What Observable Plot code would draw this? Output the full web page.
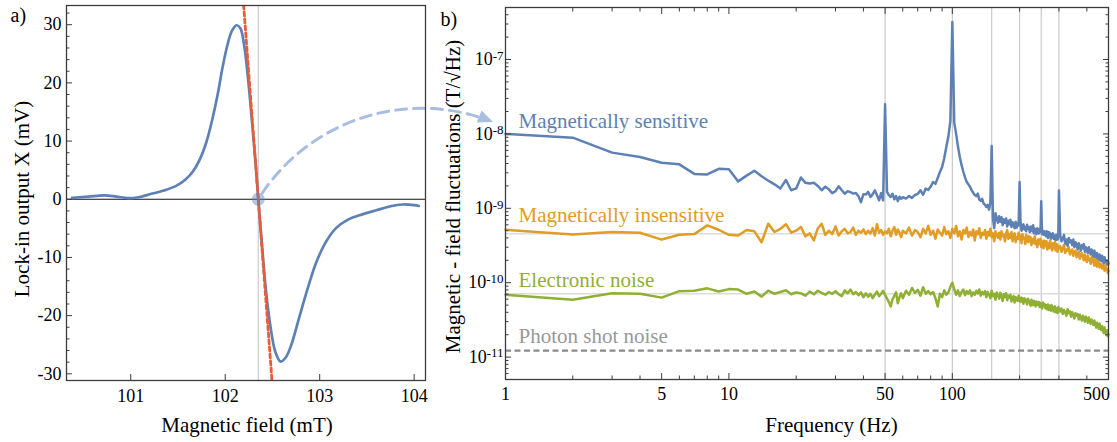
<!DOCTYPE html>
<html>
<head>
<meta charset="utf-8">
<script src="https://cdn.jsdelivr.net/npm/d3@7"></script>
<script src="https://cdn.jsdelivr.net/npm/@observablehq/plot@0.6"></script>
<style>
  html, body { margin: 0; padding: 0; background: #fff; }
  #figure { position: relative; width: 1117px; height: 442px; overflow: hidden; }
  #figure > svg { position: absolute; top: 0; font-family: "Liberation Serif", "Times New Roman", Times, serif; }
</style>
</head>
<body>
<div id="figure"></div>
<script>
// ---------- Panel a: lock-in output across the magnetic resonance ----------
const fieldMT = [100.38, 100.55, 100.72, 100.85, 100.97, 101.08, 101.2, 101.35, 101.48, 101.58,
  101.66, 101.73, 101.8, 101.86, 101.92, 101.97, 102.02, 102.07, 102.12, 102.16,
  102.2, 102.24, 102.28, 102.32, 102.35, 102.39, 102.43, 102.48, 102.53, 102.585,
  102.64, 102.7, 102.78, 102.87, 102.96, 103.06, 103.17, 103.3, 103.45, 103.6,
  103.75, 103.88, 104.0, 104.05];
const lockInMV = [0.25, 0.45, 0.68, 0.45, 0.2, 0.35, 0.85, 1.5, 2.3, 3.4,
  4.8, 6.8, 9.8, 13.5, 18, 22.5, 26.3, 28.9, 29.9, 29.4,
  26.5, 21, 14, 6.5, 0, -8, -15.5, -22, -26.2, -27.9,
  -27.2, -25, -20.5, -15.5, -11, -7.5, -5, -3.5, -2.6, -1.9,
  -1.2, -0.9, -1.0, -1.15];
const zeroCrossingMT = 102.35;          // working point on the steep flank
const slopeMVperMT = -215;              // slope of the tangent at the working point
const tangentFieldMT = [102.15, 102.55];
const fieldTicks = [101, 102, 103, 104];
const signalTicks = [-30, -20, -10, 0, 10, 20, 30];
const fieldDomain = [100.32, 104.12];
const signalDomain = [-31.15, 33.3];

// ---------- Panel b: magnetic-field noise spectra ----------
// spectrum bins: 1 Hz up to 60 Hz, 2 Hz up to 300 Hz, 4 Hz above
const binsHz = [...d3.range(1, 61), ...d3.range(62, 301, 2), ...d3.range(304, 501, 4)];
// amplitude spectral densities, in units of 1e-10 T/√Hz
const sensitive = [
  100, 89, 56, 49, 41, 39, 29, 28.5, 34, 33.5,
  23, 27.5, 32, 27, 23.5, 21, 18.5, 24, 17.5, 18.5,
  26, 22, 21.5, 22, 20, 17.5, 19.5, 18, 16, 17,
  19.8, 17.5, 15.7, 17, 16.5, 15.8, 16, 14.5, 12.1, 15.5,
  15.3, 16.6, 14.2, 15.5, 17.4, 15, 12.8, 16, 12.8, 250,
  16.6, 15, 14.2, 15.7, 13.2, 14.6, 12.5, 14.3, 13.4, 14.1,
  // 62 .. 300 Hz
  13.5, 14.6, 13.8, 15.1, 15.6, 17.5, 15.2, 18.4, 17.6, 19.6,
  22.5, 21.3, 25.5, 30.7, 36, 47, 67, 92, 150, 3200,
  140, 100, 67, 49, 38, 31, 26, 22.5, 21, 19.5,
  17.5, 16.2, 15.1, 14.6, 15.8, 13.1, 12.6, 13.4, 11.6, 11.2,
  10.4, 11.1, 9.6, 12, 69, 7.4, 5.4, 8.6, 7.3, 6.4,
  7.8, 6.6, 7.6, 5.9, 7.1, 6.4, 7.3, 5.7, 6.8, 6.1,
  7.0, 5.6, 6.5, 6.1, 5.4, 6.6, 5.5, 6.3, 5.9, 22.5,
  6.4, 5.0, 5.8, 6.1, 5.2, 5.6, 4.9, 6.0, 5.3, 5.5,
  4.8, 5.7, 5.2, 4.9, 5.9, 4.6, 5.3, 5.0, 4.5, 5.4,
  5.1, 4.6, 5.3, 4.8, 12.4, 4.5, 5.0, 4.4, 4.9, 4.7,
  4.2, 4.9, 4.5, 4.0, 4.8, 4.3, 4.6, 3.9, 4.5, 4.2,
  4.6, 3.9, 4.3, 4.1, 3.7, 4.4, 4.0, 3.8, 4.2, 17.4,
  // 304 .. 500 Hz
  4.3, 3.6, 3.9, 4.4, 3.3, 3.8, 3.1, 4.0, 3.5, 3.7,
  3.2, 3.8, 3.0, 3.5, 3.3, 2.8, 3.4, 3.1, 2.7, 3.2,
  2.9, 3.3, 2.6, 3.0, 2.8, 2.5, 3.0, 2.7, 2.4, 2.8,
  2.5, 2.2, 2.7, 2.4, 2.1, 2.5, 2.3, 2.0, 2.4, 2.15,
  1.95, 2.3, 2.05, 1.8, 2.2, 1.9, 2.0, 1.75, 1.95, 1.8];
const insensitive = [
  5.15, 4.45, 4.8, 4.7, 3.8, 4.4, 4.5, 5.9, 5.15, 4.4,
  4.3, 5.1, 4.9, 3.5, 6.2, 4.8, 5.3, 6.1, 4.7, 5.0,
  5.6, 4.2, 4.6, 3.7, 5.4, 6.2, 4.4, 5.0, 4.5, 5.7,
  4.3, 4.9, 5.3, 4.6, 4.8, 5.5, 4.4, 5.0, 4.7, 5.2,
  4.5, 5.0, 4.6, 5.4, 4.3, 6.1, 4.7, 5.1, 4.4, 4.9,
  4.6, 5.3, 4.2, 5.0, 5.6, 4.4, 5.2, 4.7, 4.1, 5.0,
  // 62 .. 300 Hz
  4.6, 5.5, 4.3, 5.1, 4.8, 4.1, 5.3, 4.6, 5.8, 4.4,
  5.0, 3.9, 5.2, 4.7, 4.3, 5.6, 4.5, 4.9, 4.0, 5.3,
  4.6, 5.8, 4.2, 4.9, 3.8, 5.1, 4.6, 5.5, 4.1, 4.8,
  4.3, 5.2, 3.7, 4.9, 4.5, 5.4, 4.0, 4.7, 4.4, 5.1,
  3.9, 4.8, 4.3, 5.3, 4.1, 4.6, 3.6, 4.9, 4.4, 4.0,
  4.7, 3.8, 4.9, 4.2, 4.4, 3.6, 4.6, 5.1, 3.9, 4.5,
  4.0, 4.8, 3.6, 4.3, 4.6, 3.5, 4.1, 3.9, 4.7, 3.8,
  4.3, 3.4, 4.5, 3.9, 4.0, 3.3, 4.4, 3.7, 3.5, 4.2,
  3.6, 4.1, 3.2, 3.8, 3.9, 3.4, 4.2, 3.3, 3.6, 3.0,
  3.8, 3.3, 3.5, 3.9, 3.0, 3.4, 3.6, 2.9, 3.7, 3.2,
  3.1, 3.6, 2.8, 3.4, 3.3, 2.9, 3.7, 3.0, 3.2, 2.7,
  3.4, 2.9, 3.1, 3.5, 2.7, 3.0, 3.3, 2.6, 3.1, 2.9,
  // 304 .. 500 Hz
  3.1, 2.6, 2.9, 3.2, 2.5, 2.8, 2.7, 3.0, 2.4, 2.6,
  2.8, 2.3, 2.6, 2.7, 2.2, 2.5, 2.6, 2.1, 2.4, 2.5,
  2.2, 2.0, 2.4, 2.1, 1.9, 2.3, 2.0, 2.1, 1.8, 2.2,
  1.9, 2.0, 1.7, 2.1, 1.8, 1.65, 1.95, 1.85, 1.6, 1.8,
  1.75, 1.55, 1.7, 1.6, 1.45, 1.7, 1.5, 1.55, 1.35, 1.45];
const electronic = [
  0.69, 0.59, 0.72, 0.71, 0.63, 0.77, 0.78, 0.84, 0.76, 0.82,
  0.81, 0.71, 0.76, 0.65, 0.78, 0.71, 0.75, 0.79, 0.70, 0.74,
  0.72, 0.67, 0.76, 0.70, 0.78, 0.73, 0.69, 0.75, 0.71, 0.77,
  0.70, 0.66, 0.79, 0.72, 0.81, 0.70, 0.75, 0.68, 0.74, 0.64,
  0.72, 0.65, 0.71, 0.62, 0.69, 0.76, 0.66, 0.71, 0.78, 0.68,
  0.61, 0.55, 0.48, 0.60, 0.67, 0.74, 0.53, 0.64, 0.72, 0.62,
  // 62 .. 300 Hz
  0.78, 0.69, 0.85, 0.73, 0.80, 0.67, 0.87, 0.71, 0.77, 0.70,
  0.75, 0.62, 0.48, 0.71, 0.64, 0.79, 0.69, 0.74, 0.88, 1.0,
  0.81, 0.69, 0.79, 0.66, 0.75, 0.81, 0.68, 0.77, 0.71, 0.79,
  0.66, 0.74, 0.69, 0.78, 0.72, 0.81, 0.67, 0.75, 0.70, 0.77,
  0.64, 0.75, 0.69, 0.62, 0.78, 0.66, 0.71, 0.59, 0.74, 0.68,
  0.61, 0.73, 0.66, 0.57, 0.70, 0.64, 0.72, 0.58, 0.67, 0.63,
  0.69, 0.56, 0.62, 0.66, 0.54, 0.64, 0.61, 0.57, 0.67, 0.58,
  0.55, 0.63, 0.60, 0.52, 0.62, 0.56, 0.59, 0.51, 0.61, 0.57,
  0.54, 0.49, 0.59, 0.55, 0.50, 0.57, 0.52, 0.48, 0.56, 0.53,
  0.50, 0.55, 0.47, 0.53, 0.51, 0.45, 0.54, 0.49, 0.52, 0.46,
  0.50, 0.44, 0.48, 0.51, 0.43, 0.49, 0.46, 0.42, 0.50, 0.45,
  0.47, 0.41, 0.46, 0.48, 0.40, 0.45, 0.43, 0.39, 0.47, 0.44,
  // 304 .. 500 Hz
  0.41, 0.45, 0.38, 0.43, 0.40, 0.36, 0.44, 0.39, 0.41, 0.35,
  0.40, 0.37, 0.33, 0.39, 0.36, 0.38, 0.32, 0.37, 0.34, 0.31,
  0.36, 0.33, 0.30, 0.35, 0.32, 0.29, 0.34, 0.31, 0.28, 0.32,
  0.30, 0.27, 0.31, 0.28, 0.25, 0.29, 0.27, 0.24, 0.28, 0.25,
  0.23, 0.26, 0.24, 0.21, 0.25, 0.22, 0.20, 0.23, 0.19, 0.20];
const photonShotNoise = 1.22e-11;       // T/√Hz
const meanInsensitive = 4.55e-10;
const meanElectronic = 7.1e-11;
const mainsHarmonicsHz = [50, 100, 150, 200, 250, 300];
const freqLabelTicks = [1, 5, 10, 50, 100];
const freqEdgeLabel = [500];
const freqMajorTicks = [1, 5, 10, 50, 100, 500];
const freqMinorTicks = [2, 3, 4, 6, 7, 8, 9, 20, 30, 40, 60, 70, 80, 90, 200, 300, 400];
const decadeTicks = [1e-11, 1e-10, 1e-9, 1e-8, 1e-7];
const seriesLabels = ["Magnetically sensitive", "Magnetically insensitive", "Electronic noise", "Photon shot noise"];
const labelLevels = [1.2e-8, 6.5e-10, 8.7e-11, 1.53e-11];
const arrowTip = {hz: 0.88, level: 1.44e-8}; // where the working-point arrow lands
const noiseDomain = [5e-12, 5e-7];
const freqDomain = [1, 500];

// ---------- styling ----------
const blue = "#5E81B5", orange = "#E19C24", green = "#8FB032", gray = "#999999";
const tangentRed = "#EE5A33", arrowBlue = "#A9BDE0";
const frameInk = "#3c3c3c";
const serif = "Liberation Serif, Times New Roman, Times, serif";
const labelColors = [blue, orange, green, gray];
const svgStyle = {"font-family": serif, "font-size": "18px", "background": "transparent", "overflow": "visible"};

// ticks drawn inside the frame
function inwardTicks(axis, anchor, ticks, size) {
  const shift = (anchor === "left" || anchor === "top") ? size : -size;
  const make = axis === "x" ? Plot.axisX : Plot.axisY;
  return make({ticks, anchor, tickSize: size, fill: "none", stroke: frameInk, strokeWidth: 1, label: null,
    ...(axis === "x" ? {dy: shift} : {dx: shift})});
}

const minorDecadeTicks = d3.range(-12, -6).flatMap(e => d3.range(2, 10).map(k => k * Math.pow(10, e)))
  .filter(v => v >= noiseDomain[0] * 0.999 && v <= noiseDomain[1] * 1.001);
const minorSignalTicks = d3.range(-30, 33, 2).filter(v => v % 10 !== 0);

// ---------- panel b ----------
const spectrum = binsHz.map((f, i) => ({
  f,
  sensitive: sensitive[i] * 1e-10,
  insensitive: insensitive[i] * 1e-10,
  electronic: electronic[i] * 1e-10
}));

const bLeft = 435, bWidth = 1117 - bLeft;
const panelB = Plot.plot({
  width: bWidth, height: 442,
  marginLeft: 70, marginRight: 9, marginTop: 7, marginBottom: 63,
  style: svgStyle,
  x: {type: "log", domain: freqDomain, axis: null, label: null},
  y: {type: "log", domain: noiseDomain, axis: null, label: null},
  marks: [
    Plot.ruleX(mainsHarmonicsHz, {stroke: "#c9c9c9", strokeWidth: 1.2}),
    Plot.ruleY([meanInsensitive, meanElectronic], {stroke: "#dcdcdc", strokeWidth: 1.6}),
    Plot.ruleY([photonShotNoise], {stroke: "#8a8a8a", strokeWidth: 2.2, strokeDasharray: "6,3.5"}),
    Plot.line(spectrum, {x: "f", y: "sensitive", stroke: blue, strokeWidth: 2.5}),
    Plot.line(spectrum, {x: "f", y: "insensitive", stroke: orange, strokeWidth: 2.5}),
    Plot.line(spectrum, {x: "f", y: "electronic", stroke: green, strokeWidth: 2.5}),
    ...seriesLabels.map((t, i) => Plot.text([t], {
      frameAnchor: "left", y: () => labelLevels[i], text: d => d, dx: 13,
      textAnchor: "start", lineAnchor: "bottom", fill: labelColors[i], fontSize: 21, fontFamily: serif
    })),
    inwardTicks("x", "bottom", freqMajorTicks, 6),
    inwardTicks("x", "bottom", freqMinorTicks, 3.5),
    inwardTicks("x", "top", freqMajorTicks, 6),
    inwardTicks("x", "top", freqMinorTicks, 3.5),
    inwardTicks("y", "left", decadeTicks, 6),
    inwardTicks("y", "left", minorDecadeTicks, 3.5),
    inwardTicks("y", "right", decadeTicks, 6),
    inwardTicks("y", "right", minorDecadeTicks, 3.5),
    Plot.frame({stroke: frameInk, strokeWidth: 1.3}),
    Plot.text(freqLabelTicks, {x: d => d, frameAnchor: "bottom", dy: 8.2, lineAnchor: "top",
      textAnchor: "middle", text: d => String(d), fontSize: 18, fontFamily: serif}),
    Plot.text(freqEdgeLabel, {x: d => d, frameAnchor: "bottom", dy: 8.2, dx: -12, lineAnchor: "top",
      textAnchor: "middle", text: d => String(d), fontSize: 18, fontFamily: serif}),
    Plot.text(decadeTicks, {y: d => d, frameAnchor: "left", dx: -2, textAnchor: "end", lineAnchor: "middle",
      text: d => `10^${Math.round(Math.log10(d))}`, fontSize: 18, fontFamily: serif}),
    Plot.text(["Frequency (Hz)"], {frameAnchor: "bottom", text: d => d, dy: 52.7, dx: 24.5,
      textAnchor: "middle", lineAnchor: "bottom", fontSize: 21, fontFamily: serif}),
    Plot.text(["Magnetic - field fluctuations (T/√Hz)"], {frameAnchor: "left", text: d => d, rotate: -90,
      dx: -46, dy: 3, textAnchor: "middle", lineAnchor: "bottom", fontSize: 21, fontFamily: serif}),
    Plot.text(["b)"], {frameAnchor: "top-left", text: d => d, dx: -65, dy: 18.5,
      textAnchor: "start", lineAnchor: "bottom", fontSize: 20, fontFamily: serif})
  ]
});

// decade labels: 10 with a raised exponent
panelB.querySelectorAll("text").forEach(t => {
  const m = /^10\^(.+)$/.exec(t.textContent);
  if (!m) return;
  t.textContent = "10";
  const sup = document.createElementNS("http://www.w3.org/2000/svg", "tspan");
  sup.setAttribute("dy", "-0.42em");
  sup.setAttribute("font-size", "72%");
  sup.textContent = m[1];
  t.appendChild(sup);
});

// ---------- panel a ----------
const aWidth = 435, aMargins = {left: 66, right: 10, top: 5, bottom: 62};
const signal = fieldMT.map((x, i) => ({x, y: lockInMV[i]}));
const tangent = tangentFieldMT.map(x => ({x, y: slopeMVperMT * (x - zeroCrossingMT)}));

// the arrow runs from the working point into panel b
const xA = Plot.scale({x: {domain: fieldDomain, range: [aMargins.left, aWidth - aMargins.right]}});
const yA = Plot.scale({y: {domain: signalDomain, range: [442 - aMargins.bottom, aMargins.top]}});
const tipPx = bLeft + panelB.scale("x").apply(arrowTip.hz);
const tipPy = panelB.scale("y").apply(arrowTip.level);
const startPx = xA.apply(zeroCrossingMT), startPy = yA.apply(0);
const bend = 40;
const chordDeg = Math.atan2(startPy - tipPy, tipPx - startPx) * 180 / Math.PI;
const arrowLink = [{x1: zeroCrossingMT, y1: 0, x2: xA.invert(tipPx), y2: yA.invert(tipPy)}];

const panelA = Plot.plot({
  width: aWidth, height: 442,
  marginLeft: aMargins.left, marginRight: aMargins.right, marginTop: aMargins.top, marginBottom: aMargins.bottom,
  style: svgStyle,
  x: {domain: fieldDomain, axis: null, label: null},
  y: {domain: signalDomain, axis: null, label: null},
  marks: [
    Plot.ruleX([zeroCrossingMT], {stroke: "#cccccc", strokeWidth: 1.2}),
    Plot.ruleY([0], {stroke: "#111", strokeWidth: 1.1}),
    Plot.line(signal, {x: "x", y: "y", stroke: blue, strokeWidth: 2.7, curve: "catmull-rom"}),
    Plot.line(tangent, {x: "x", y: "y", stroke: tangentRed, strokeWidth: 2.8, strokeDasharray: "4,3", clip: true}),
    Plot.dot([{x: zeroCrossingMT, y: 0}], {x: "x", y: "y", r: 6.5, fill: blue, fillOpacity: 0.45}),
    Plot.arrow(arrowLink, {x1: "x1", y1: "y1", x2: "x2", y2: "y2", bend, headLength: 0,
      insetStart: 7, insetEnd: 13, stroke: arrowBlue, strokeWidth: 3, strokeDasharray: "11,7"}),
    Plot.vector([arrowLink[0]], {x: "x2", y: "y2", length: 15, r: 6.5, shape: "spike", anchor: "end",
      rotate: 90 - chordDeg + bend, fill: arrowBlue, stroke: "none"}),
    inwardTicks("y", "left", signalTicks, 6),
    inwardTicks("y", "left", minorSignalTicks, 3.5),
    inwardTicks("x", "bottom", fieldTicks, 6),
    Plot.frame({stroke: frameInk, strokeWidth: 1.3}),
    Plot.axisY({ticks: signalTicks, anchor: "left", tickSize: 0, tickPadding: 5,
      tickFormat: d => String(d), fontSize: 18, fontFamily: serif, label: null}),
    Plot.axisX({ticks: fieldTicks, anchor: "bottom", tickSize: 0, tickPadding: 9,
      tickFormat: d => String(d), fontSize: 18, fontFamily: serif, label: null}),
    Plot.text(["Magnetic field (mT)"], {frameAnchor: "bottom", text: d => d, dy: 51.7, dx: 1,
      textAnchor: "middle", lineAnchor: "bottom", fontSize: 21, fontFamily: serif}),
    Plot.text(["Lock-in output X (mV)"], {frameAnchor: "left", text: d => d, rotate: -90,
      dx: -37.5, dy: 6, textAnchor: "middle", lineAnchor: "bottom", fontSize: 21, fontFamily: serif}),
    Plot.text(["a)"], {frameAnchor: "top-left", text: d => d, dx: -56, dy: 16.7,
      textAnchor: "start", lineAnchor: "bottom", fontSize: 20, fontFamily: serif})
  ]
});

const figure = document.getElementById("figure");
panelB.style.left = bLeft + "px";
panelA.style.left = "0px";
figure.appendChild(panelB);
figure.appendChild(panelA);
</script>
</body>
</html>
